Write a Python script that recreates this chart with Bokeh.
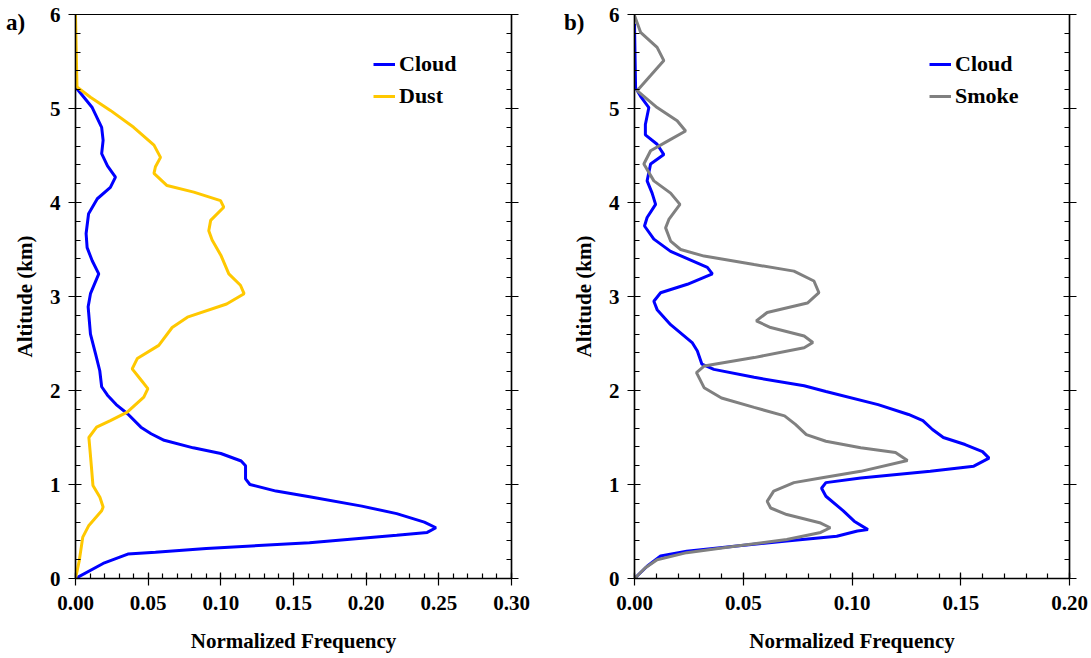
from bokeh.plotting import figure
from bokeh.layouts import row
from bokeh.models import Range1d, FixedTicker, LinearAxis, NumeralTickFormatter, Legend, LegendItem, Div
from bokeh.embed import file_html
from bokeh.resources import INLINE

# ---- Panel a) : Cloud vs Dust ----
a_cloud_alt = [0.00, 0.16, 0.26, 0.28, 0.32, 0.38, 0.46, 0.49, 0.54, 0.60, 0.69, 0.77, 0.87, 0.93,
               1.00, 1.06, 1.20, 1.25, 1.33, 1.39, 1.47, 1.54, 1.61, 1.75, 1.85, 1.95, 2.04, 2.21,
               2.39, 2.60, 2.89, 3.03, 3.24, 3.38, 3.52, 3.67, 3.88, 4.04, 4.16, 4.27, 4.39, 4.52,
               4.66, 4.80, 5.01, 5.23, 5.50]
a_cloud_freq = [0.000, 0.019, 0.036, 0.055, 0.090, 0.161, 0.221, 0.242, 0.248, 0.240, 0.221, 0.197, 0.161, 0.138,
                0.120, 0.117, 0.117, 0.114, 0.100, 0.081, 0.061, 0.052, 0.045, 0.036, 0.028, 0.022, 0.018, 0.0167,
                0.0138, 0.0103, 0.0087, 0.0103, 0.016, 0.0115, 0.008, 0.0073, 0.009, 0.015, 0.024, 0.0275, 0.022, 0.018,
                0.019, 0.018, 0.0115, 0.000, 0.000]

a_dust_alt = [0.00, 0.19, 0.44, 0.565, 0.72, 0.76, 0.865, 0.99, 1.18, 1.36, 1.50, 1.61, 1.68, 1.77,
              1.93, 2.02, 2.12, 2.23, 2.34, 2.48, 2.67, 2.78, 2.92, 3.03, 3.12, 3.24, 3.44, 3.60,
              3.70, 3.81, 3.95, 4.02, 4.11, 4.18, 4.31, 4.38, 4.48, 4.61, 4.80, 4.98, 5.12, 5.23, 6.00]
a_dust_freq = [0.000, 0.0026, 0.005, 0.0092, 0.018, 0.019, 0.0168, 0.012, 0.011, 0.010, 0.0092, 0.0145, 0.024, 0.0356,
               0.047, 0.0498, 0.0447, 0.039, 0.0425, 0.0573, 0.0665, 0.077, 0.104, 0.116, 0.1135, 0.1055, 0.100, 0.094,
               0.0917, 0.093, 0.102, 0.0998, 0.0814, 0.063, 0.054, 0.055, 0.0585, 0.054, 0.040, 0.024, 0.0103, 0.001, 0.000]

# ---- Panel b) : Cloud vs Smoke ----
b_cloud_alt = [0.00, 0.13, 0.24, 0.29, 0.345, 0.40, 0.45, 0.505, 0.52, 0.61, 0.72, 0.875, 0.96, 1.02,
               1.07, 1.14, 1.195, 1.28, 1.35, 1.425, 1.50, 1.585, 1.68, 1.745, 1.85, 1.99, 2.05, 2.14,
               2.225, 2.28, 2.42, 2.51, 2.70, 2.86, 2.95, 3.04, 3.13, 3.24, 3.31, 3.48, 3.61, 3.75,
               3.84, 3.98, 4.10, 4.23, 4.41, 4.51, 4.62, 4.72, 4.83, 5.01, 5.13, 5.22, 5.90]
b_cloud_freq = [0.000, 0.0058, 0.012, 0.024, 0.047, 0.070, 0.093, 0.1025, 0.1073, 0.101, 0.096, 0.088, 0.086, 0.088,
                0.104, 0.136, 0.156, 0.163, 0.160, 0.152, 0.142, 0.137, 0.1326, 0.126, 0.112, 0.088, 0.078, 0.055,
                0.0365, 0.031, 0.0289, 0.0265, 0.0166, 0.0104, 0.0089, 0.012, 0.0243, 0.0358, 0.0335, 0.0166, 0.0089, 0.0046,
                0.0058, 0.0097, 0.0081, 0.0058, 0.0074, 0.0135, 0.0104, 0.005, 0.005, 0.0066, 0.0028, 0.0005, 0.000]

b_smoke_alt = [0.00, 0.115, 0.20, 0.275, 0.345, 0.415, 0.49, 0.54, 0.59, 0.68, 0.75, 0.82, 0.93, 1.02,
               1.07, 1.14, 1.255, 1.34, 1.39, 1.46, 1.53, 1.64, 1.73, 1.82, 1.92, 2.03, 2.19, 2.26,
               2.35, 2.455, 2.51, 2.58, 2.67, 2.74, 2.83, 2.93, 3.04, 3.165, 3.27, 3.34, 3.43, 3.50,
               3.59, 3.73, 3.82, 3.98, 4.10, 4.23, 4.41, 4.55, 4.65, 4.76, 4.87, 5.01, 5.19, 5.35,
               5.51, 5.65, 5.81, 5.99]
b_smoke_freq = [0.000, 0.005, 0.0104, 0.024, 0.047, 0.070, 0.0856, 0.090, 0.0856, 0.070, 0.0626, 0.061, 0.064, 0.0733,
                0.0856, 0.104, 0.1255, 0.120, 0.104, 0.088, 0.079, 0.074, 0.069, 0.055, 0.040, 0.032, 0.0285, 0.032,
                0.055, 0.078, 0.082, 0.078, 0.0626, 0.056, 0.061, 0.0795, 0.0848, 0.0825, 0.0733, 0.055, 0.032, 0.0212,
                0.0166, 0.0143, 0.0158, 0.0209, 0.0166, 0.0089, 0.0043, 0.0074, 0.015, 0.0235, 0.0196, 0.0104, 0.0012, 0.0074,
                0.0135, 0.0104, 0.0028, 0.000]

alt_ticks = [0, 1, 2, 3, 4, 5, 6]
alt_minor = [round(i * 0.2, 1) for i in range(31)]
a_xticks = [0.0, 0.05, 0.10, 0.15, 0.20, 0.25, 0.30]
a_xminor = [round(i * 0.01, 2) for i in range(31)]
b_xticks = [0.0, 0.05, 0.10, 0.15, 0.20]
b_xminor = [round(i * 0.01, 2) for i in range(21)]

CLOUD = "#0000FF"
DUST = "#FFC800"
SMOKE = "#808080"
FONT = "'Liberation Serif', 'Times New Roman', serif"
FS = "21px"


def style_axis(ax, ticks, minor, fmt=None, label=None, show_labels=True):
    ax.ticker = FixedTicker(ticks=ticks, minor_ticks=minor)
    if fmt:
        ax.formatter = NumeralTickFormatter(format=fmt)
    if not show_labels:
        ax.major_label_overrides = {t: "" for t in ticks}
    ax.axis_line_color = "black"
    ax.axis_line_width = 1.5
    ax.major_tick_line_color = "black"
    ax.major_tick_line_width = 1.2
    ax.minor_tick_line_color = "black"
    ax.minor_tick_line_width = 1.2
    ax.major_tick_in = 6
    ax.major_tick_out = 7
    ax.minor_tick_in = 5
    ax.minor_tick_out = 0
    ax.major_label_text_font = FONT
    ax.major_label_text_font_style = "bold"
    ax.major_label_text_font_size = FS
    ax.major_label_text_color = "black"
    if label:
        ax.axis_label = label
        ax.axis_label_text_font = FONT
        ax.axis_label_text_font_style = "bold"
        ax.axis_label_text_font_size = FS
        ax.axis_label_text_color = "black"


def make_panel(width, bl, br, xmax, xticks, xminor, series, legend_x):
    p = figure(width=width, height=658, x_range=Range1d(0, xmax), y_range=Range1d(0, 6),
               output_backend="svg", toolbar_location=None,
               min_border_left=bl, min_border_right=br, min_border_top=14, min_border_bottom=80,
               x_axis_label="Normalized Frequency", y_axis_label="Altitude (km)")
    p.grid.visible = False
    p.outline_line_color = "black"
    p.outline_line_width = 1.2
    p.background_fill_color = "white"
    p.border_fill_color = "white"
    style_axis(p.xaxis[0], xticks, xminor, fmt="0.00", label="Normalized Frequency")
    p.xaxis[0].major_label_standoff = 10
    p.xaxis[0].axis_label_standoff = 16
    style_axis(p.yaxis[0], alt_ticks, alt_minor, label="Altitude (km)")
    p.yaxis[0].major_label_standoff = 8
    p.yaxis[0].axis_label_standoff = 10
    rax = LinearAxis()
    style_axis(rax, alt_ticks, alt_minor, show_labels=False)
    p.add_layout(rax, "right")

    items = []
    for name, xs, ys, color in series:
        r = p.line(xs, ys, line_color=color, line_width=3)
        items.append(LegendItem(label=name, renderers=[r]))
    leg = Legend(items=items, location=(legend_x, 466))
    leg.label_text_font = FONT
    leg.label_text_font_style = "bold"
    leg.label_text_font_size = "22px"
    leg.label_text_color = "black"
    leg.glyph_width = 22
    leg.glyph_height = 32
    leg.label_height = 32
    leg.label_standoff = 4
    leg.spacing = 0
    leg.padding = 0
    leg.margin = 0
    leg.border_line_color = None
    leg.background_fill_alpha = 0
    p.add_layout(leg, "center")
    return p


def tag(text, left, top):
    html = (f'<div style="font-family: {FONT}; font-weight: bold; font-size: 23px; '
            f'line-height: 23px; color: black; margin: 0; padding: 0;">{text}</div>')
    return Div(text=html, width=34, height=26,
               styles={"position": "absolute", "left": f"{left}px", "top": f"{top}px",
                       "margin": "0", "padding": "0", "z-index": "10"})


pa = make_panel(545, 75, 34, 0.30, a_xticks, a_xminor,
                [("Cloud", a_cloud_freq, a_cloud_alt, CLOUD), ("Dust", a_dust_freq, a_dust_alt, DUST)], 298)
pb = make_panel(546, 89, 22, 0.20, b_xticks, b_xminor,
                [("Cloud", b_cloud_freq, b_cloud_alt, CLOUD), ("Smoke", b_smoke_freq, b_smoke_alt, SMOKE)], 295)

layout = row(pa, pb, tag("a)", 6, 11), tag("b)", 564, 11))
open("out.html", "w").write(file_html(layout, INLINE))
